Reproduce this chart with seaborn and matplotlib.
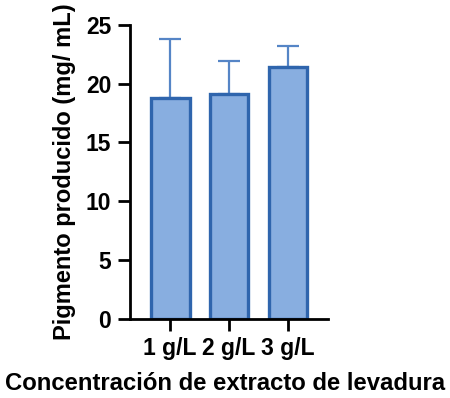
import matplotlib
matplotlib.use("Agg")
import matplotlib.pyplot as plt
import seaborn as sns
import pandas as pd

# Yeast-extract concentration vs. pigment produced (mean + SD)
categories = ["1 g/L", "2 g/L", "3 g/L"]
means = [18.8, 19.1, 21.4]
sds = [5.0, 2.8, 1.8]
y_ticks = [0, 5, 10, 15, 20, 25]

fill_color = "#88AEE0"
edge_color = "#2F65AD"
err_color = "#5585C6"

sns.set_theme(style="ticks")
plt.rcParams["font.family"] = ["Liberation Sans", "DejaVu Sans"]
plt.rcParams["font.weight"] = "bold"
plt.rcParams["text.color"] = "black"
plt.rcParams["axes.labelcolor"] = "black"
plt.rcParams["xtick.color"] = "black"
plt.rcParams["ytick.color"] = "black"

df = pd.DataFrame({"conc": categories, "pigment": means})

fig = plt.figure(figsize=(4.5, 3.98), dpi=100)
ax = fig.add_axes([0.289, 0.198, 0.44, 0.740])

sns.barplot(data=df, x="conc", y="pigment", ax=ax, color=fill_color,
            saturation=1, width=0.66, errorbar=None,
            edgecolor=edge_color, linewidth=2.4)

ax.errorbar(range(len(categories)), means, yerr=[[0] * len(sds), sds],
            fmt="none", ecolor=err_color, elinewidth=1.6, capsize=8,
            capthick=1.6, zorder=0)

ax.set_ylim(0, 25)
ax.set_xlim(-0.68, 2.68)
ax.set_yticks(y_ticks)
ax.set_yticklabels([str(t) for t in y_ticks])

for side in ("top", "right"):
    ax.spines[side].set_visible(False)
for side in ("left", "bottom"):
    ax.spines[side].set_linewidth(2.0)
    ax.spines[side].set_color("black")

ax.tick_params(axis="both", length=8.5, width=2.0, colors="black",
               labelsize=16.5)
ax.tick_params(axis="x", pad=4)
ax.tick_params(axis="y", pad=5)
for lab in ax.get_xticklabels() + ax.get_yticklabels():
    lab.set_fontweight("bold")

ax.set_ylabel("Pigmento producido (mg/ mL)", fontsize=17,
              fontweight="bold", labelpad=7, color="black")
ax.set_xlabel("Concentración de extracto de levadura", fontsize=17.2,
              fontweight="bold", labelpad=9, color="black")
# centre the long x label under the whole figure
ax.xaxis.label.set_x(0.48)

fig.savefig("out.png", dpi=100)
